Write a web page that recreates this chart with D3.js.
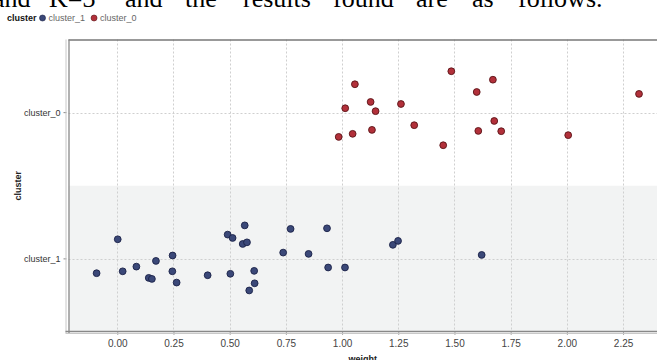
<!DOCTYPE html>
<html><head><meta charset="utf-8">
<script src="https://cdn.jsdelivr.net/npm/d3@7"></script>
<style>body{margin:0;background:#fff}svg{display:block}</style>
</head><body>
<script>
// ---- data ----
const categories = ["cluster_0", "cluster_1"];
const legendOrder = ["cluster_1", "cluster_0"];
const xTicks = [0, 0.25, 0.5, 0.75, 1, 1.25, 1.5, 1.75, 2, 2.25];
// cluster_1: weight values and vertical jitter (in category units)
const cluster1Weight = [-0.092,0.002,0.024,0.085,0.140,0.154,0.172,0.246,0.245,0.264,0.402,0.491,0.513,0.503,0.567,0.558,0.577,0.609,0.611,0.587,0.738,0.771,0.851,0.933,0.938,1.013,1.226,1.249,1.621];
const cluster1Jitter = [-0.098,0.134,-0.085,-0.053,-0.130,-0.137,-0.014,0.023,-0.085,-0.162,-0.112,0.166,0.143,-0.102,0.229,0.102,0.113,-0.082,-0.167,-0.216,0.043,0.205,0.034,0.209,-0.059,-0.059,0.096,0.123,0.027];
const cluster0Weight = [0.985,1.014,1.047,1.057,1.127,1.149,1.133,1.262,1.321,1.450,1.486,1.599,1.671,1.677,1.606,1.708,2.006,2.321];
const cluster0Jitter = [-0.166,0.030,-0.145,0.194,0.073,0.010,-0.118,0.059,-0.086,-0.223,0.283,0.141,0.225,-0.057,-0.125,-0.127,-0.154,0.128];
const headerWords = ["and","K=3","and","the","results","found","are","as","follows."];

(function () {
const W = 657, H = 360;
const SANS = "'Liberation Sans', Arial, sans-serif";
const svg = d3.select("body").append("svg").attr("width", W).attr("height", H);

// header text (document line above the chart, cropped at the top as in the reference)
const headerX = [-7, 49, 125, 185, 243, 333, 416, 472, 518];
svg.append("g").selectAll("text").data(headerWords).join("text")
  .attr("x", (d,i) => headerX[i]).attr("y", 7)
  .attr("font-family", "'Liberation Serif', 'Times New Roman', serif")
  .attr("font-size", 26).attr("fill", "#000").text(d => d);

const pl = 68.5, pr = 657, pt = 39.5, pb = 332;
const x = d3.scaleLinear().domain([-0.217, 2.401]).range([pl, pr]);
const y = d3.scaleBand().domain(categories).range([pt, pb]);

const colors = {cluster_1: {fill: "#3b4878", stroke: "#1b2147"}, cluster_0: {fill: "#b2303a", stroke: "#5a1417"}};

// band backgrounds
svg.append("rect").attr("x", pl).attr("y", y("cluster_1")).attr("width", pr - pl)
  .attr("height", y.bandwidth()).attr("fill", "#f2f3f3");

// grid
const grid = svg.append("g").attr("stroke", "#cfcfcf").attr("stroke-dasharray", "2,2").attr("stroke-width", 1);
grid.selectAll("line.v").data(xTicks).join("line").attr("class","v")
  .attr("x1", d => Math.round(x(d)) + 0.5).attr("x2", d => Math.round(x(d)) + 0.5)
  .attr("y1", pt).attr("y2", pb);
grid.selectAll("line.h").data(categories).join("line").attr("class","h")
  .attr("x1", pl).attr("x2", pr)
  .attr("y1", d => Math.round(y(d) + y.bandwidth()/2) + 0.5)
  .attr("y2", d => Math.round(y(d) + y.bandwidth()/2) + 0.5);

// axes
const xAxis = svg.append("g").attr("transform", `translate(0,${pb})`)
  .call(d3.axisBottom(x).tickValues(xTicks).tickFormat(d3.format(".2f")).tickSize(3).tickPadding(5));
xAxis.attr("font-family", SANS);
xAxis.select(".domain").remove();
xAxis.selectAll("line").attr("stroke", "#aaa");
xAxis.selectAll("text").attr("font-size", 10).attr("fill", "#444");

const yAxis = svg.append("g").attr("transform", `translate(${pl - 2},0)`)
  .call(d3.axisLeft(y).tickSize(3).tickPadding(3));
yAxis.attr("font-family", SANS);
yAxis.select(".domain").remove();
yAxis.selectAll("line").attr("stroke", "#888");
yAxis.selectAll("text").attr("font-size", 9).attr("fill", "#333");

// frame lines
svg.append("line").attr("x1", pl).attr("x2", pr).attr("y1", pt + 0.5).attr("y2", pt + 0.5).attr("stroke", "#777").attr("stroke-width", 1.3);
svg.append("line").attr("x1", pl + 0.5).attr("x2", pl + 0.5).attr("y1", pt).attr("y2", pb + 1).attr("stroke", "#888").attr("stroke-width", 1.3);
svg.append("line").attr("x1", pl - 2.5).attr("x2", pl - 2.5).attr("y1", pt).attr("y2", pb + 1).attr("stroke", "#c8c8c8").attr("stroke-width", 1);
svg.append("line").attr("x1", pl - 3).attr("x2", pr).attr("y1", pb - 0.5).attr("y2", pb - 0.5).attr("stroke", "#888").attr("stroke-width", 1.3);
svg.append("line").attr("x1", pl - 3).attr("x2", pr).attr("y1", pb + 1.5).attr("y2", pb + 1.5).attr("stroke", "#c8c8c8").attr("stroke-width", 1);

// points
const pts = [];
cluster1Weight.forEach((w, i) => pts.push({c: "cluster_1", w, j: cluster1Jitter[i]}));
cluster0Weight.forEach((w, i) => pts.push({c: "cluster_0", w, j: cluster0Jitter[i]}));
svg.append("g").selectAll("circle").data(pts).join("circle")
  .attr("cx", d => x(d.w))
  .attr("cy", d => y(d.c) + y.bandwidth()/2 - d.j * y.bandwidth())
  .attr("r", 3.4)
  .attr("fill", d => colors[d.c].fill).attr("stroke", d => colors[d.c].stroke).attr("stroke-width", 0.9);

// axis titles
svg.append("text").attr("x", (pl + pr)/2).attr("y", 362).attr("text-anchor", "middle")
  .attr("font-family", SANS).attr("font-weight", "bold").attr("font-size", 9).attr("fill", "#222").text("weight");
svg.append("text").attr("transform", `translate(21,${(pt + pb)/2}) rotate(-90)`).attr("text-anchor", "middle")
  .attr("font-family", SANS).attr("font-weight", "bold").attr("font-size", 9).attr("fill", "#222").text("cluster");

// legend
const lg = svg.append("g").attr("font-family", SANS).attr("font-size", 9);
const title = lg.append("text").attr("x", 7).attr("y", 21).attr("font-weight", "bold").attr("fill", "#111").text("cluster");
let cx = 7 + title.node().getComputedTextLength() + 6;
legendOrder.forEach((c) => {
  lg.append("circle").attr("cx", cx).attr("cy", 18).attr("r", 3).attr("fill", colors[c].fill).attr("stroke", colors[c].stroke).attr("stroke-width", 0.6);
  const t = lg.append("text").attr("x", cx + 6).attr("y", 21).attr("fill", "#666").text(c);
  cx = cx + 6 + t.node().getComputedTextLength() + 9;
});
})();
</script>
</body></html>
